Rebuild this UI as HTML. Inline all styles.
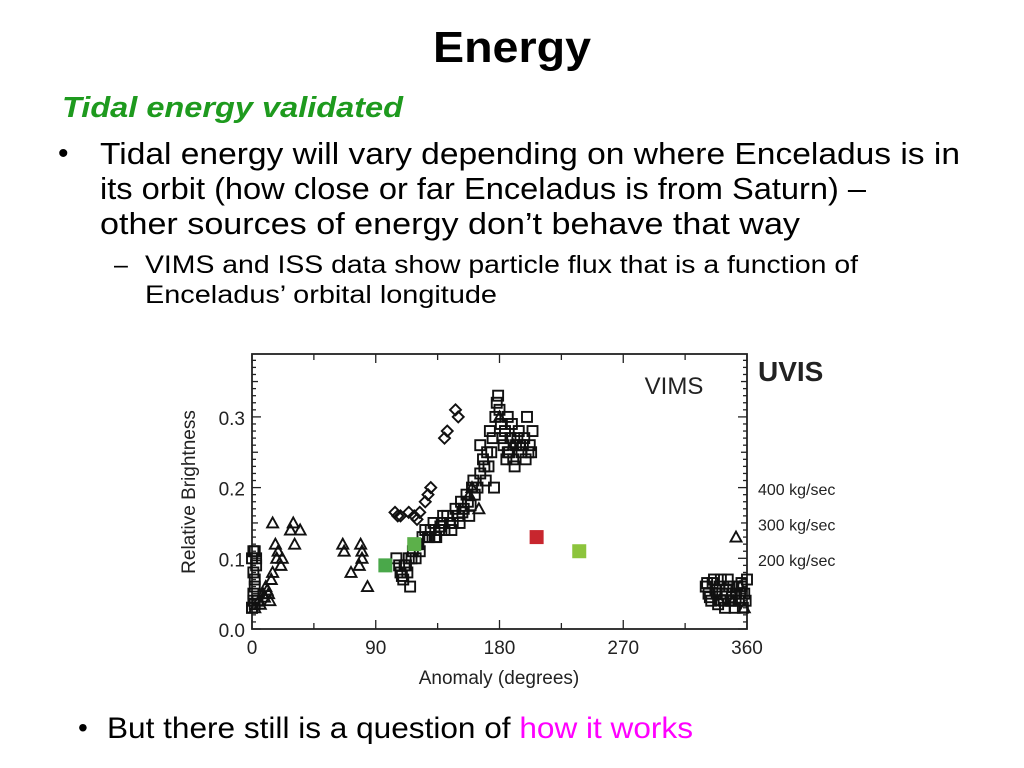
<!DOCTYPE html>
<html><head><meta charset="utf-8"><style>
html,body{margin:0;padding:0;background:#fff;width:1024px;height:768px;overflow:hidden}
svg{display:block}
</style></head><body>
<svg id="page" width="1024" height="768" viewBox="0 0 1024 768">
<text x="512" y="62" text-anchor="middle" font-family="Liberation Sans, sans-serif" font-weight="bold" font-size="44" textLength="158" lengthAdjust="spacingAndGlyphs">Energy</text>
<text x="62" y="117" font-family="Liberation Sans, sans-serif" font-weight="bold" font-style="italic" font-size="29" fill="#1e9a1e" textLength="341" lengthAdjust="spacingAndGlyphs">Tidal energy validated</text>
<text x="58" y="163" font-family="Liberation Sans, sans-serif" font-size="30">•</text>
<g font-family="Liberation Sans, sans-serif" font-size="31">
<text x="100" y="164" textLength="860" lengthAdjust="spacingAndGlyphs">Tidal energy will vary depending on where Enceladus is in</text>
<text x="100" y="199" textLength="766" lengthAdjust="spacingAndGlyphs">its orbit (how close or far Enceladus is from Saturn) –</text>
<text x="100" y="234" textLength="700" lengthAdjust="spacingAndGlyphs">other sources of energy don’t behave that way</text>
</g>
<g font-family="Liberation Sans, sans-serif" font-size="25">
<text x="114" y="273">–</text>
<text x="145" y="273" textLength="713" lengthAdjust="spacingAndGlyphs">VIMS and ISS data show particle flux that is a function of</text>
<text x="145" y="303" textLength="352" lengthAdjust="spacingAndGlyphs">Enceladus’ orbital longitude</text>
</g>
<text x="78" y="737" font-family="Liberation Sans, sans-serif" font-size="28">•</text>
<text x="107" y="738" font-family="Liberation Sans, sans-serif" font-size="30" textLength="586" lengthAdjust="spacingAndGlyphs">But there still is a question of <tspan fill="#ff00ff">how it works</tspan></text>
<g id="chart"></g>
</svg>
<script>
const xTicks=[0,90,180,270,360];
const yTicks=[0.0,0.1,0.2,0.3];
const yTickLabels=["0.0","0.1","0.2","0.3"];
const squaresX=[0,1,2,1,0,2,3,1,2,0,1,3,4,2,105,108,110,112,114,115,113,117,119,120,122,124,111,116,121,107,109,126,128,130,132,134,136,138,140,142,144,146,133,139,145,129,137,148,150,152,154,156,158,160,162,164,151,157,161,153,159,166,168,170,172,174,176,166,169,171,173,175,177,178,179,180,181,182,183,184,185,186,187,188,189,190,192,194,196,198,200,202,204,186,191,195,199,203,193,197,201,330,332,334,336,338,340,342,344,346,348,350,352,354,356,358,360,343,347,351,355,359,341,345,349,353,357,333,337,331,339,335,345,349,356];
const squaresY=[0.03,0.04,0.06,0.08,0.1,0.11,0.09,0.05,0.07,0.03,0.11,0.1,0.04,0.035,0.1,0.08,0.07,0.09,0.1,0.06,0.08,0.11,0.1,0.12,0.11,0.13,0.09,0.1,0.12,0.09,0.075,0.14,0.13,0.14,0.15,0.13,0.14,0.15,0.14,0.16,0.15,0.15,0.13,0.16,0.14,0.13,0.145,0.17,0.16,0.18,0.17,0.19,0.16,0.2,0.19,0.2,0.15,0.18,0.21,0.165,0.175,0.22,0.24,0.21,0.23,0.25,0.2,0.26,0.23,0.25,0.28,0.27,0.3,0.32,0.33,0.31,0.29,0.27,0.26,0.28,0.24,0.3,0.25,0.27,0.29,0.24,0.26,0.28,0.25,0.27,0.3,0.26,0.28,0.25,0.23,0.26,0.24,0.25,0.27,0.26,0.25,0.06,0.05,0.04,0.07,0.05,0.06,0.05,0.03,0.07,0.04,0.06,0.05,0.04,0.06,0.05,0.07,0.04,0.06,0.03,0.05,0.04,0.07,0.05,0.04,0.06,0.03,0.045,0.055,0.065,0.035,0.065,0.055,0.045,0.065];
const trianglesX=[2,5,8,10,12,14,15,13,18,17,19,15,22,21,28,30,31,35,66,67,72,78,79,80,80,84,160,158,165,180,190,352,350,340,358,355,6,9,11];
const trianglesY=[0.03,0.04,0.05,0.06,0.05,0.07,0.08,0.04,0.1,0.12,0.11,0.15,0.1,0.09,0.14,0.15,0.12,0.14,0.12,0.11,0.08,0.09,0.12,0.11,0.1,0.06,0.2,0.19,0.17,0.3,0.26,0.13,0.04,0.04,0.03,0.06,0.035,0.045,0.055];
const diamondsX=[148,150,142,140,128,126,130,104,106,108,114,118,120,122];
const diamondsY=[0.31,0.3,0.28,0.27,0.19,0.18,0.2,0.165,0.16,0.16,0.165,0.16,0.155,0.165];
const uvisX=[97,118,207,238];
const uvisY=[0.09,0.12,0.13,0.11];
const uvisColors=["#4aa84a","#5cb04a","#c8262e","#8cc43c"];
const rateLabels=["400 kg/sec","300 kg/sec","200 kg/sec"];

const L=252,R=747,B=629,T=354;
const sx=v=>L+(v/360)*(R-L);
const sy=v=>B-v*707;
const NS="http://www.w3.org/2000/svg";
const g=document.getElementById('chart');
function mk(tag,attrs,parent){const e=document.createElementNS(NS,tag);for(const k in attrs)e.setAttribute(k,attrs[k]);(parent||g).appendChild(e);return e;}

const frame=mk('rect',{x:L,y:T,width:R-L,height:B-T,fill:'none',stroke:'#222','stroke-width':1.8});


const ticks=mk('g',{stroke:'#222','stroke-width':1.3});


for(let d=0;d<=360;d+=45){const x=sx(d),len=d%90===0?9:6;mk('line',{x1:x,x2:x,y1:B,y2:B-len},ticks);mk('line',{x1:x,x2:x,y1:T,y2:T+len},ticks);}
for(let i=0;i<=38;i++){const v=i/100,y=sy(v),len=i%10===0?9:(i%5===0?6:4);mk('line',{x1:L,x2:L+len,y1:y,y2:y},ticks);mk('line',{x1:R,x2:R-len,y1:y,y2:y},ticks);}
xTicks.forEach(v=>{const t=mk('text',{x:sx(v),y:654,'text-anchor':'middle','font-family':'Liberation Sans, sans-serif','font-size':19,fill:'#222'});t.textContent=v;

});
yTicks.forEach((v,i)=>{const t=mk('text',{x:245,y:sy(v)+8,'text-anchor':'end','font-family':'Liberation Sans, sans-serif','font-size':19,fill:'#222'});t.textContent=yTickLabels[i];

});
const xt=mk('text',{x:499,y:684,'text-anchor':'middle','font-family':'Liberation Sans, sans-serif','font-size':19,fill:'#222'});xt.textContent='Anomaly (degrees)';


const yt=mk('text',{x:0,y:0,transform:'translate(195,492) rotate(-90)','text-anchor':'middle','font-family':'Liberation Sans, sans-serif','font-size':19,fill:'#222'});yt.textContent='Relative Brightness';


const vm=mk('text',{x:674,y:394,'text-anchor':'middle','font-family':'Liberation Sans, sans-serif','font-size':24,fill:'#222'});vm.textContent='VIMS';


const uv=mk('text',{x:758,y:381,'font-family':'Liberation Sans, sans-serif','font-weight':'bold','font-size':28,fill:'#222'});uv.textContent='UVIS';


rateLabels.forEach((s,i)=>{const t=mk('text',{x:758,y:495+i*35.5,'font-family':'Liberation Sans, sans-serif','font-size':16,fill:'#222'});t.textContent=s;

});

const pts=mk('g',{fill:'none',stroke:'#111','stroke-width':1.9});


squaresX.forEach((v,i)=>{const x=sx(v),y=sy(squaresY[i]);const r=mk('rect',{x:x-5,y:y-5,width:10,height:10},pts);

});
trianglesX.forEach((v,i)=>{const x=sx(v),y=sy(trianglesY[i]);const p=mk('polygon',{points:`${x},${y-5.5} ${x-5.5},${y+4.5} ${x+5.5},${y+4.5}`},pts);

});
diamondsX.forEach((v,i)=>{const x=sx(v),y=sy(diamondsY[i]);const p=mk('polygon',{points:`${x},${y-5.5} ${x+5.5},${y} ${x},${y+5.5} ${x-5.5},${y}`},pts);

});
uvisX.forEach((v,i)=>{const x=sx(v),y=sy(uvisY[i]);const r=mk('rect',{x:x-7,y:y-7,width:14,height:14,fill:uvisColors[i]});

});
</script>
</body></html>
